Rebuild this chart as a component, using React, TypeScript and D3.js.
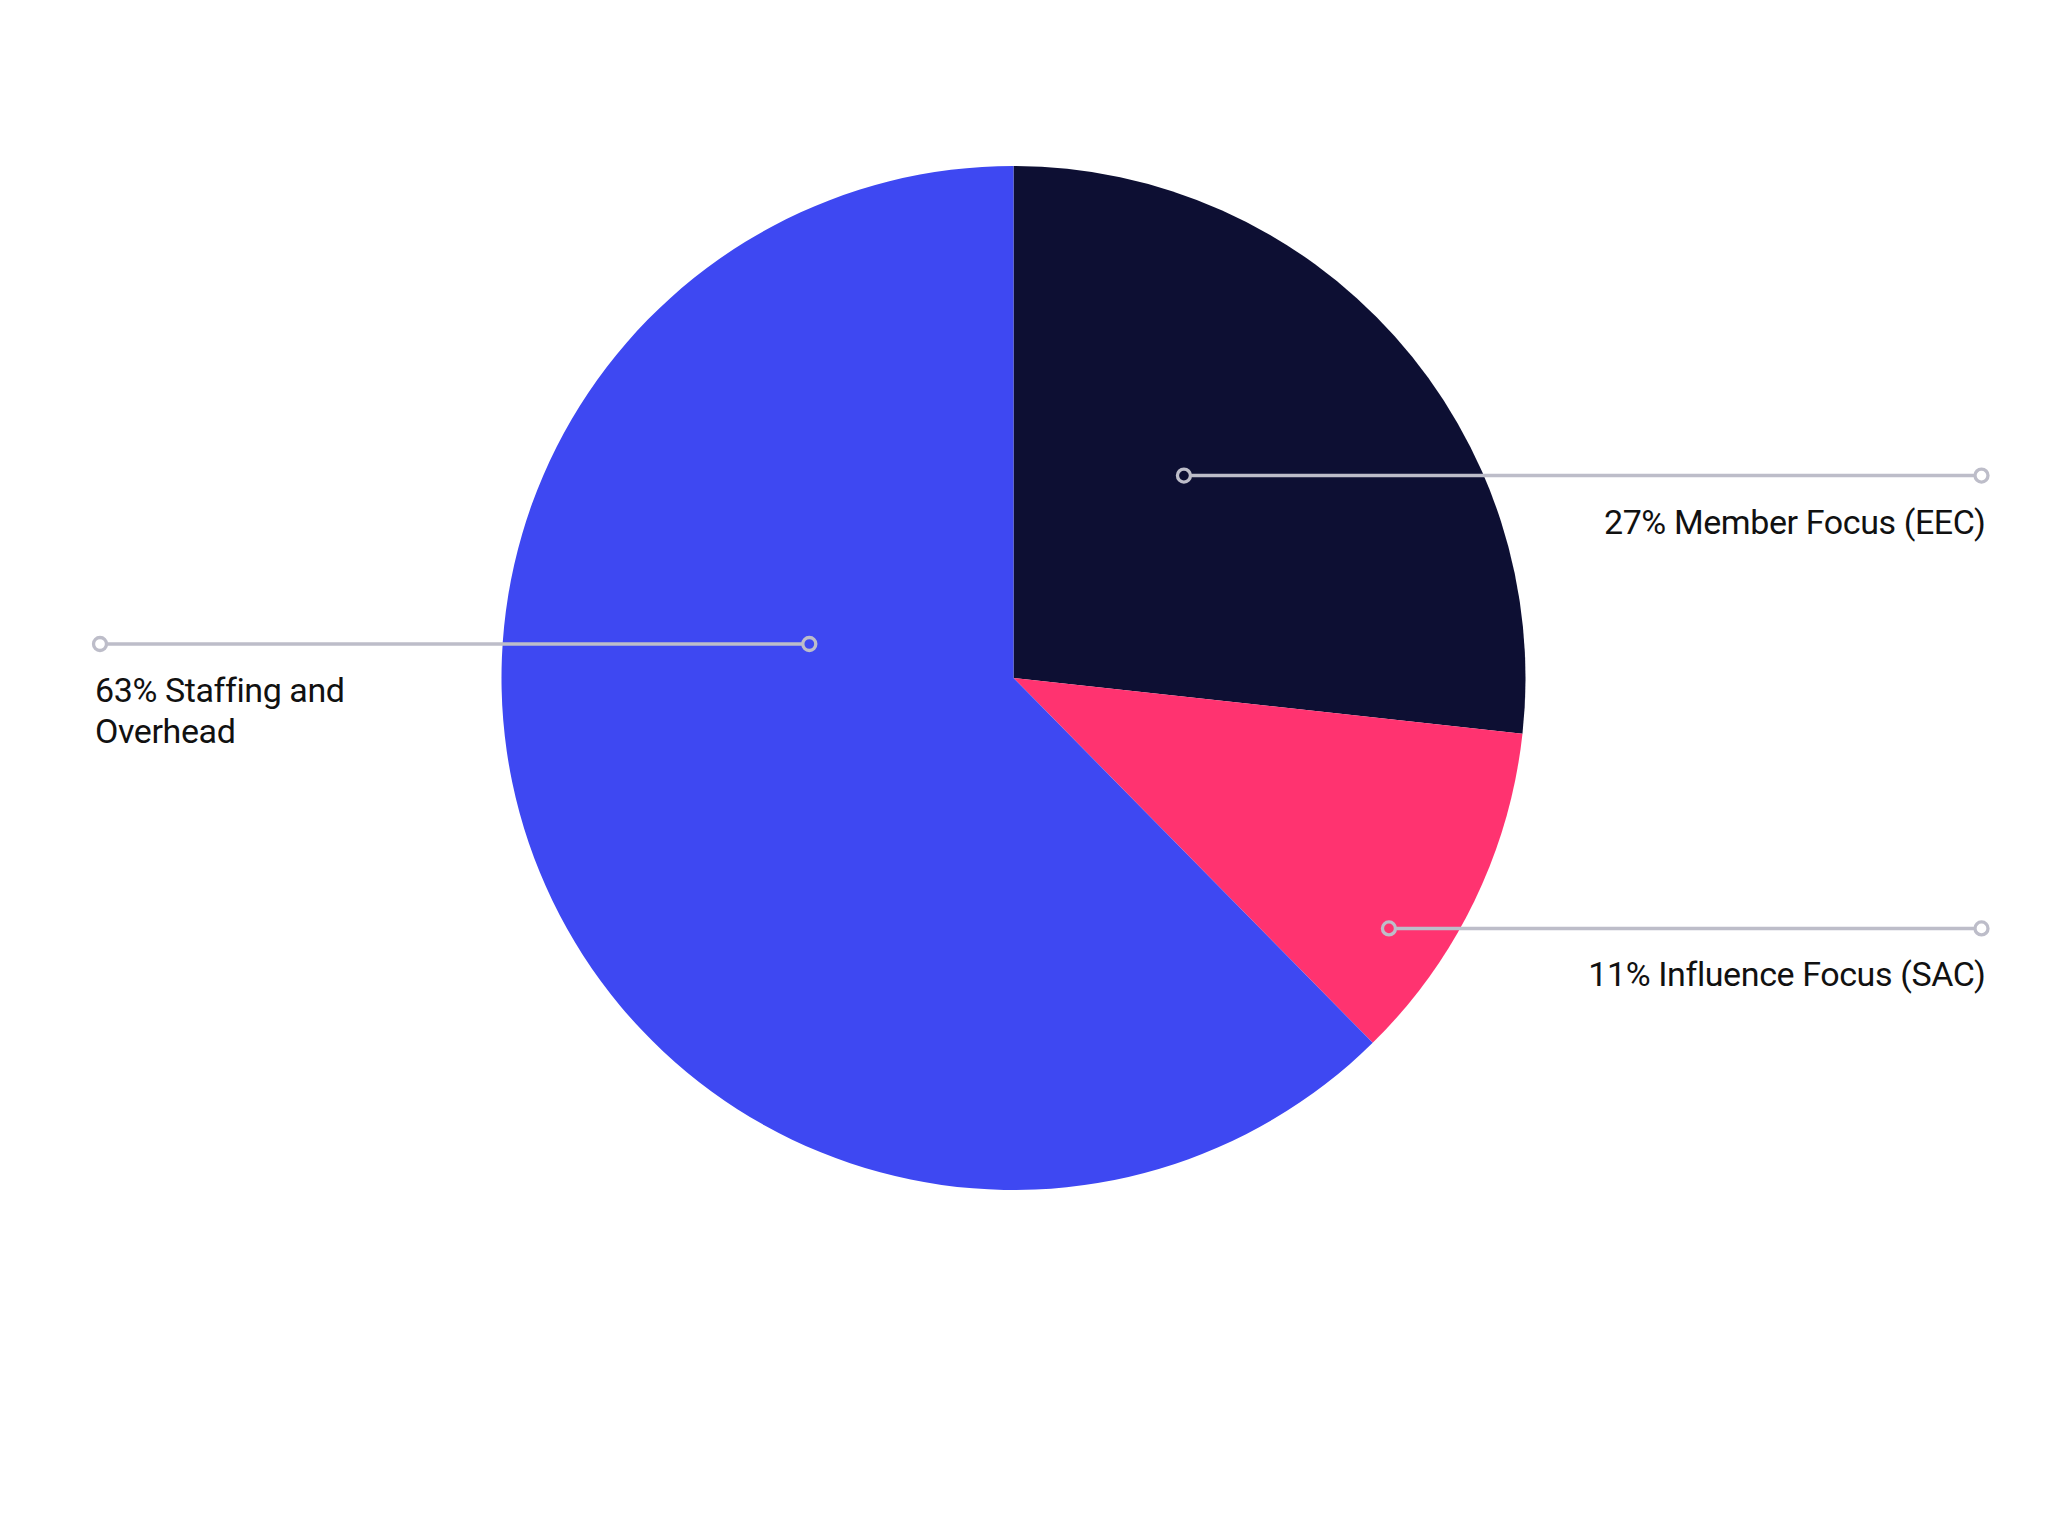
import React, { useEffect } from "react";
import * as d3 from "d3";

const categories = ["Member Focus (EEC)", "Influence Focus (SAC)", "Staffing and Overhead"];
const values = [27, 11, 63];
const labels = ["27% Member Focus (EEC)", "11% Influence Focus (SAC)", "63% Staffing and|Overhead"];
const colors = ["#0d0f33", "#ff3370", "#3e48f2"];

const W = 2048;
const H = 1536;
const cx = 1013.5;
const cy = 678;
const R = 512;

// annotation anchors (polar, degrees clockwise from top; radius fraction)
const anchorAngle = [40.1, 123.7, 279.45];
const anchorRad = [0.5168, 0.8814, 0.4043];
const lineEndX = [1981.5, 1981.5, 100];
const side = ["right", "right", "left"];

export default function App() {
  useEffect(() => {
    document.body.style.margin = "0";
  }, []);
  const pie = d3.pie<number>().sort(null).value((d) => d);
  const arcs = pie(values);
  const arcGen = d3.arc<d3.PieArcDatum<number>>().innerRadius(0).outerRadius(R);

  return (
    <svg width={W} height={H} style={{ position: "absolute", left: 0, top: 0, background: "#fff" }}>
      <g transform={`translate(${cx},${cy})`}>
        {arcs.map((a, i) => (
          <path key={categories[i]} d={arcGen(a) || ""} fill={colors[i]} />
        ))}
      </g>
      {arcs.map((a, i) => {
        const ang = (anchorAngle[i] * Math.PI) / 180;
        const ax = cx + Math.sin(ang) * anchorRad[i] * R;
        const ay = cy - Math.cos(ang) * anchorRad[i] * R;
        const ex = lineEndX[i];
        const lines = labels[i].split("|");
        const right = side[i] === "right";
        const tx = right ? ex + 4 : ex - 5;
        const dir = ex > ax ? 1 : -1;
        const cr = 6.5;
        return (
          <g key={"ann" + i}>
            <line x1={ax + dir * cr} y1={ay} x2={ex - dir * cr} y2={ay} stroke="#bdbdc9" strokeWidth={3.5} />
            <circle cx={ax} cy={ay} r={cr} fill="none" stroke="#bdbdc9" strokeWidth={3.3} />
            <circle cx={ex} cy={ay} r={cr} fill="none" stroke="#bdbdc9" strokeWidth={3.3} />
            <text
              x={tx}
              y={ay + 58}
              textAnchor={right ? "end" : "start"}
              fontFamily="Roboto"
              fontSize={34}
              letterSpacing={-0.4}
              fill="#111"
            >
              {lines.map((l, j) => (
                <tspan key={j} x={tx} dy={j === 0 ? 0 : 41}>
                  {l}
                </tspan>
              ))}
            </text>
          </g>
        );
      })}
    </svg>
  );
}
